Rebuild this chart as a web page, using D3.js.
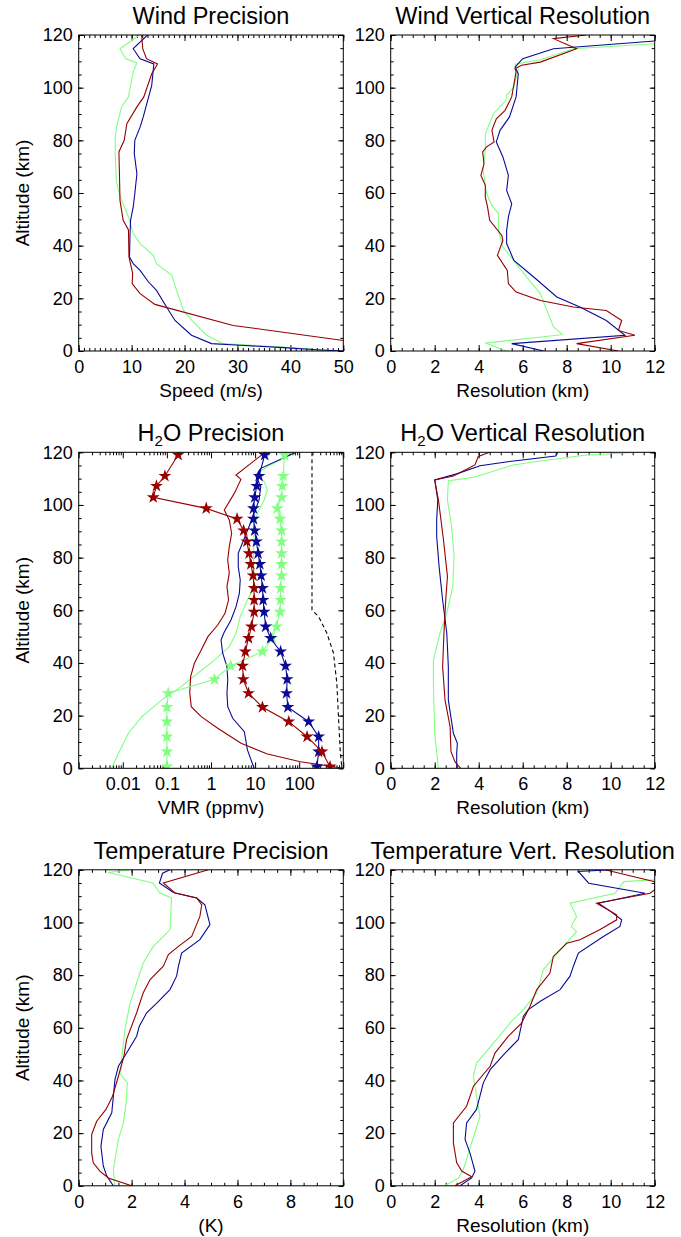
<!DOCTYPE html>
<html>
<head>
<meta charset="utf-8">
<script src="https://cdn.jsdelivr.net/npm/d3@7"></script>
<style>
body { margin: 0; background: white; }
text { font-family: "Liberation Sans", Arial, Helvetica, sans-serif; fill: black; }
</style>
</head>
<body>
<script>
// every series is a list of [altitude km, value]

let windPrecRed = [[120,11.9],[114.8,12.1],[111,12.8],[109,14.9],[105.3,13.8],[96.5,12.3],[92.7,11],[86.3,9.1],[80,8.6],[75.6,7.6],[67.3,7.7],[57.2,7.8],[49.6,8.4],[46,9.4],[35.7,9.5],[29.4,10.2],[25.6,10.1],[21.8,11.6],[17.7,14.4],[9.7,29.2],[4,50]];
let windPrecBlue = [[120,13],[114.8,10.3],[111,11.6],[109,14.2],[100.9,13.8],[88.9,12.2],[85,11.6],[80,10.6],[75,10.5],[67.3,11],[59.7,10.6],[54.7,10.3],[49.6,9.8],[44.6,9.7],[35.7,9.6],[33.2,10.3],[30.6,11.6],[26.2,13.2],[23,14.7],[16.7,16.6],[11.6,18.2],[6,21.3],[2.8,25.1],[2.2,30.5],[1.3,38.7],[0.5,45],[0,50]];
let windPrecGreen = [[120,11.5],[114.8,7.8],[111,8.9],[109.4,11],[106,10.3],[96.5,9.4],[92.7,8.1],[86.3,7.3],[81.9,6.9],[75,6.9],[64.8,7.1],[61,7.5],[57.2,8.1],[50.9,9.4],[44.6,10.3],[40.8,11.6],[36.3,14.1],[33.2,14.7],[28.7,17.6],[23,18.5],[15.4,19.8],[11.6,21.4],[8.5,22.9],[6,24.2],[2.8,27.3],[1.5,38.7],[0,48.1]];

let windResRed = [[120,8.9],[118.6,7.4],[114.8,8.45],[109.7,6.8],[108.5,5.95],[107.2,5.65],[106,5.7],[96.5,5.5],[91.4,5.2],[88.2,4.8],[83.8,4.6],[79.4,4.7],[77.5,4.36],[75.6,4.18],[71.1,4.24],[66.7,4.1],[62.9,4.3],[58.5,4.3],[54.7,4.4],[49.6,4.5],[43.9,5.05],[42,5.1],[36.3,4.85],[30.6,5.3],[25.6,5.35],[22.4,5.7],[19.2,6.8],[16.7,8.3],[15.4,9.8],[11.6,10.5],[7.8,10.35],[6,11.1],[2.8,8.45],[0,10.35]];
let windResBlue = [[117.7,12],[114.8,7.4],[111,6.0],[107.8,5.65],[105.3,5.8],[96.5,5.7],[88.9,5.4],[83.8,4.97],[79.4,4.8],[73.7,5.1],[66.7,5.35],[61,5.27],[55.9,5.5],[50.9,5.35],[45.8,5.27],[40.8,5.27],[34.4,5.6],[28.1,6.5],[20.5,7.55],[16.7,8.6],[11.6,9.8],[6,10.65],[2.8,5.5],[0,6.95]];
let windResGreen = [[116.7,12],[114.8,8.3],[110.6,6.8],[108.9,5.65],[107.2,5.8],[100.3,5.6],[97.1,5.27],[95.2,5.24],[90.1,4.67],[82.5,4.3],[76.2,4.3],[68.6,4.2],[59.7,4.36],[55.3,4.6],[52.2,4.9],[45.8,4.9],[39.5,5.1],[33.2,5.7],[26.8,6.3],[21.8,6.8],[9.1,7.4],[6.2,7.8],[3,4.3],[0,5.27]];

let h2oPrecRed = [[119.9,16.5],[111.4,3.68],[109.7,4.77],[104.4,3.37],[98.1,2.0],[94.3,2.6],[89.2,2.94],[84.2,2.6],[79.1,2.39],[74.1,2.6],[69,2.3],[63.9,2.5],[58.9,2.08],[54.4,1.42],[50,0.85],[44.9,0.6],[39.9,0.42],[34.8,0.345],[28.5,0.33],[23.4,0.357],[19.6,0.6],[15.2,1.42],[9.5,4.8],[5.4,19],[2.5,107],[0.6,603],[0,1000]];
let h2oPrecBlue = [[119.9,82],[113.9,13.4],[111,10.4],[107,13.4],[101.9,12.3],[96.8,9.5],[91.8,7.3],[86.7,5.5],[81.6,4.15],[76.6,4.15],[71.5,4.6],[66.5,4.4],[61.4,3.7],[56.3,2.84],[51.3,1.94],[48.7,1.69],[43.7,1.84],[38.6,2.3],[33.5,2.4],[28.5,2.3],[23.4,2.4],[19,3.1],[13.9,5.7],[7,6.7],[0,9.5]];
let h2oPrecGreen = [[119.9,82],[114.6,19],[111.4,10.4],[108.9,16],[105.7,19],[101.9,16],[96.8,11.3],[91.8,9.2],[86.7,9.5],[80.4,9.2],[71.5,9.5],[67.7,8.7],[63.9,6.7],[57.6,4.6],[51.3,3.7],[46.2,2.6],[41.1,1.2],[36.1,0.5],[31,0.21],[25.9,0.076],[19.6,0.027],[13.3,0.0134],[5.7,0.008],[0,0.0056]];
let h2oStarRed = [[119,0.18],[111,0.09],[107.2,0.058],[102.9,0.049],[98.7,0.78],[94.7,3.9],[90.3,5.5],[86.1,6.5],[81.6,7.3],[77.5,8.0],[73.2,9.0],[68.4,9.5],[63.9,9.5],[59.4,9.5],[53.8,8.3],[49.4,7.1],[44.3,6.0],[38.9,5.2],[33.8,5.4],[28.5,7.1],[23.2,14.7],[17.7,58],[12,151],[6.3,328],[0.6,500]];
let h2oStarBlue = [[119,16.5],[111,12.3],[107.2,10.9],[102.9,9.8],[98.7,9.2],[94.7,9.2],[90.3,9.8],[86.1,10.7],[81.6,11.7],[77.5,12.8],[73.2,13.7],[68.4,14.7],[63.9,15.2],[59.4,16],[53.8,17.4],[49.4,22.5],[44.3,37.8],[38.9,49],[33.8,53.4],[28.5,51.7],[23.2,55.3],[17.7,164],[12,276],[6.3,276],[0.6,252]];
let h2oStarGreen = [[119,46.6],[111,43.5],[107.2,41.3],[102.9,39.8],[98.7,31.8],[94.7,36.6],[90.3,39.8],[86.1,39.8],[81.6,39.8],[77.5,39.8],[73.2,39.8],[68.4,37.8],[63.9,37.8],[59.4,36.6],[53.8,30.7],[49.4,24.5],[44.3,14.7],[38.9,2.8],[33.8,1.2],[28.5,0.107],[23.2,0.1],[17.7,0.1],[12,0.1],[6.3,0.1],[0.6,0.1]];
let h2oDashed = [[120,195],[60.1,195],[57.6,276],[51.3,425],[43.7,600],[32.3,713],[19.6,777],[7,850],[0,925]];

let h2oResRed = [[120,4.5],[118.4,3.98],[115.2,3.83],[111,2.85],[109.5,2.0],[101.9,2.17],[86.7,2.4],[72.8,2.58],[63.9,2.5],[51.3,2.42],[38.6,2.36],[25.9,2.47],[15.8,2.7],[6.3,2.74],[2.5,2.92],[0,3.18]];
let h2oResBlue = [[120,7.6],[118.6,7.5],[116.5,5.4],[114.9,4.06],[111.8,3.0],[109.5,2.0],[101.9,2.14],[94.3,2.09],[88,2.09],[76.6,2.2],[63.9,2.36],[51.3,2.55],[38.6,2.62],[25.9,2.62],[13.3,2.85],[9.5,3.03],[5.7,3.0],[0,3.0]];
let h2oResGreen = [[120,11.33],[119,8.9],[116.5,6.64],[115.2,5.58],[110.8,3.9],[110.1,3.45],[109.2,2.62],[101.9,2.58],[91.8,2.77],[80.4,2.88],[69,2.82],[58.9,2.55],[51.3,2.24],[41.1,1.94],[32.3,1.94],[13.3,2.0],[0,2.17]];

let tempPrecRed = [[120,4.9],[115,3.2],[111.2,3.64],[109.3,4.46],[106.7,4.65],[102.3,4.58],[94.7,4.27],[90.9,3.77],[87.8,3.39],[83.4,3.2],[78.3,2.7],[73.3,2.44],[65.7,2.19],[55.6,1.81],[49.2,1.71],[41.6,1.5],[34,1.28],[29,1.03],[24.5,0.68],[19.5,0.49],[12.5,0.49],[8.7,0.55],[5.6,0.8],[3,1.12],[0,2.0]];
let tempPrecBlue = [[120,3.45],[118.7,3.17],[115,3.05],[111.4,3.58],[109.3,4.46],[106.7,4.77],[99.2,4.96],[93.5,4.58],[88.4,3.89],[83.4,3.77],[79.6,3.7],[74.5,3.45],[69.4,2.95],[65.7,2.57],[60.6,2.29],[56.8,2.19],[50.4,1.81],[45.4,1.5],[40.3,1.37],[27.7,1.25],[21.4,0.93],[15,0.84],[7.5,0.93],[3.7,1.06],[0,1.31]];
let tempPrecGreen = [[120,1.91],[119,1.12],[115,2.8],[111.2,3.07],[109.3,3.51],[97.3,3.45],[94.7,3.2],[90.9,2.82],[84.6,2.44],[77,2.19],[69.4,1.94],[59.3,1.75],[47.9,1.62],[42.2,1.59],[39.1,1.84],[31.5,1.79],[23.9,1.69],[17.6,1.5],[6.2,1.31],[0,1.37]];

let tempResRed = [[120,9.74],[115.5,12],[112.4,12],[111.1,11.79],[107.3,9.36],[102.9,10.27],[101,10.27],[97.2,9.5],[93.4,8.6],[92.1,8.0],[87.1,7.39],[80.8,7.24],[74.5,6.64],[68.1,6.33],[61.8,5.95],[56.8,5.35],[50.4,4.74],[45.4,4.52],[37.8,3.76],[30.2,3.45],[23.9,2.85],[16.3,2.85],[8.7,3.0],[5.6,3.23],[3.4,3.68],[0,2.92]];
let tempResBlue = [[120,10.05],[119.4,8.53],[114.9,9.0],[111.1,11.56],[107.3,9.44],[104.8,9.9],[101,10.5],[98.5,10.42],[94.7,9.67],[88.4,8.53],[83.3,8.3],[79.6,8.15],[74.5,7.7],[70.1,6.8],[66.9,6.26],[64.4,6.03],[55.5,5.8],[50.4,5.2],[44.1,4.52],[39.1,4.21],[29,3.9],[23.9,3.45],[17.6,3.38],[12.5,3.6],[5.6,3.83],[3,3.68],[0,3.15]];
let tempResGreen = [[116.2,12],[115.5,10.6],[111.1,10.2],[107.3,8.15],[102.3,8.45],[98.5,8.2],[96.6,8.45],[90.9,7.85],[82.1,6.94],[73.2,6.64],[66.9,6.03],[62.5,5.5],[54.2,4.67],[46.6,3.9],[41.6,3.76],[34,3.9],[26.4,4.06],[6.2,3.3],[3,3.08],[0,2.47]];

// axis ticks and labels
let altTicks = [0, 20, 40, 60, 80, 100, 120];
let speedTicks = [0, 10, 20, 30, 40, 50];
let resTicks = [0, 2, 4, 6, 8, 10, 12];
let kTicks = [0, 2, 4, 6, 8, 10];
let vmrTicks = [0.01, 0.1, 1, 10, 100];
let vmrTickLabels = ["0.01", "0.1", "1", "10", "100"];

let red = "#960000", blue = "#0a0a96", green = "#80ff80";

let width = 681, height = 1237;
let svg = d3.select("body").append("svg").attr("width", width).attr("height", height);

let colX = [78.7, 390.7];   // left edge of each column of plots
let plotW = [264.6, 264];
let rowY = [35, 452.3, 869.8];  // top edge of each row
let plotH = 316;
let clipCount = 0;

function drawPanel(col, row, p) {
  let g = svg.append("g").attr("transform", "translate(" + colX[col] + "," + rowY[row] + ")");
  let w = plotW[col];

  let x = p.log ? d3.scaleLog().domain(p.xDomain).range([0, w]) : d3.scaleLinear().domain(p.xDomain).range([0, w]);
  let y = d3.scaleLinear().domain([0, 120]).range([plotH, 0]);

  // minor ticks first (no labels), inward on all four sides
  let xMinor, yMinor = d3.range(0, 121, 5);
  if (p.log) {
    xMinor = [];
    for (let e = -3; e < 3; e++) for (let m = 2; m < 10; m++) xMinor.push(m * Math.pow(10, e));
  } else {
    xMinor = d3.range(p.xDomain[0], p.xDomain[1] + 1e-9, p.xMinorStep);
  }
  g.append("g").attr("transform", "translate(0," + plotH + ")").call(d3.axisBottom(x).tickValues(xMinor).tickSize(-3).tickFormat(""));
  g.append("g").call(d3.axisTop(x).tickValues(xMinor).tickSize(-3).tickFormat(""));
  g.append("g").call(d3.axisLeft(y).tickValues(yMinor).tickSize(-3).tickFormat(""));
  g.append("g").attr("transform", "translate(" + w + ",0)").call(d3.axisRight(y).tickValues(yMinor).tickSize(-3).tickFormat(""));

  // major ticks with labels
  let xTickVals = p.log ? [0.001, 0.01, 0.1, 1, 10, 100, 1000] : p.xTicks;
  let xAxis = d3.axisBottom(x).tickValues(xTickVals).tickSize(-6).tickPadding(9);
  if (p.log) xAxis.tickFormat(d => { let i = vmrTicks.indexOf(d); return i < 0 ? "" : vmrTickLabels[i]; });
  else xAxis.tickFormat(d3.format("d"));
  let xg = g.append("g").attr("class", "xaxis").attr("transform", "translate(0," + plotH + ")").call(xAxis);
  g.append("g").call(d3.axisTop(x).tickValues(xTickVals).tickSize(-6).tickFormat(""));
  let yg = g.append("g").call(d3.axisLeft(y).tickValues(altTicks).tickSize(-5).tickPadding(6));
  g.append("g").attr("transform", "translate(" + w + ",0)").call(d3.axisRight(y).tickValues(altTicks).tickSize(-5).tickFormat(""));

  g.selectAll(".domain").remove();
  g.selectAll(".tick line").attr("stroke", "#000").attr("stroke-width", 1);
  xg.selectAll("text").style("font-size", "18px").attr("fill", "#000");
  yg.selectAll("text").style("font-size", "18px").attr("fill", "#000");

  // clip so lines stay inside the box
  clipCount++;
  let clipId = "clip" + clipCount;
  g.append("clipPath").attr("id", clipId).append("rect").attr("width", w).attr("height", plotH);
  let dataG = g.append("g").attr("clip-path", "url(#" + clipId + ")");

  let line = d3.line().x(d => x(d[1])).y(d => y(d[0]));
  p.series.forEach(s => {
    dataG.append("path")
      .datum(s.data)
      .attr("fill", "none")
      .attr("stroke", s.color)
      .attr("stroke-width", 1.1)
      .attr("stroke-dasharray", s.dash || null)
      .attr("d", line);
    if (s.stars) {
      dataG.selectAll(null).data(s.data).enter().append("path")
        .attr("d", d3.symbol().type(d3.symbolStar).size(52))
        .attr("fill", s.color)
        .attr("transform", d => "translate(" + x(d[1]) + "," + y(d[0]) + ")");
    }
  });

  // box
  g.append("rect").attr("width", w).attr("height", plotH).attr("fill", "none").attr("stroke", "#000").attr("stroke-width", 1);

  // title
  let t = g.append("text").attr("x", w / 2).attr("y", -11).attr("text-anchor", "middle").style("font-size", "23.5px");
  if (p.h2o) {
    t.append("tspan").text("H");
    t.append("tspan").attr("dy", 5).style("font-size", "15px").text("2");
    t.append("tspan").attr("dy", -5).text("O " + p.title);
  } else {
    t.text(p.title);
  }

  // x label
  g.append("text").attr("x", w / 2).attr("y", plotH + 46).attr("text-anchor", "middle").style("font-size", "19px").text(p.xLabel);

  // y label only on left column
  if (col == 0) {
    g.append("text").attr("transform", "translate(-50," + (plotH / 2) + ") rotate(-90)")
      .attr("text-anchor", "middle").style("font-size", "19px").text("Altitude (km)");
  }
}

drawPanel(0, 0, { title: "Wind Precision", xLabel: "Speed (m/s)", xDomain: [0, 50], xTicks: speedTicks, xMinorStep: 1,
  series: [{ data: windPrecGreen, color: green }, { data: windPrecBlue, color: blue }, { data: windPrecRed, color: red }] });
drawPanel(1, 0, { title: "Wind Vertical Resolution", xLabel: "Resolution (km)", xDomain: [0, 12], xTicks: resTicks, xMinorStep: 0.5,
  series: [{ data: windResGreen, color: green }, { data: windResBlue, color: blue }, { data: windResRed, color: red }] });
drawPanel(0, 1, { title: "Precision", h2o: true, log: true, xLabel: "VMR (ppmv)", xDomain: [0.001, 1000],
  series: [{ data: h2oDashed, color: "#000", dash: "4,3" },
    { data: h2oPrecGreen, color: green }, { data: h2oPrecBlue, color: blue }, { data: h2oPrecRed, color: red },
    { data: h2oStarGreen, color: green, stars: true }, { data: h2oStarBlue, color: blue, stars: true }, { data: h2oStarRed, color: red, stars: true }] });
drawPanel(1, 1, { title: "Vertical Resolution", h2o: true, xLabel: "Resolution (km)", xDomain: [0, 12], xTicks: resTicks, xMinorStep: 0.5,
  series: [{ data: h2oResGreen, color: green }, { data: h2oResBlue, color: blue }, { data: h2oResRed, color: red }] });
drawPanel(0, 2, { title: "Temperature Precision", xLabel: "(K)", xDomain: [0, 10], xTicks: kTicks, xMinorStep: 0.5,
  series: [{ data: tempPrecGreen, color: green }, { data: tempPrecBlue, color: blue }, { data: tempPrecRed, color: red }] });
drawPanel(1, 2, { title: "Temperature Vert. Resolution", xLabel: "Resolution (km)", xDomain: [0, 12], xTicks: resTicks, xMinorStep: 0.5,
  series: [{ data: tempResGreen, color: green }, { data: tempResBlue, color: blue }, { data: tempResRed, color: red }] });
</script>
</body>
</html>
